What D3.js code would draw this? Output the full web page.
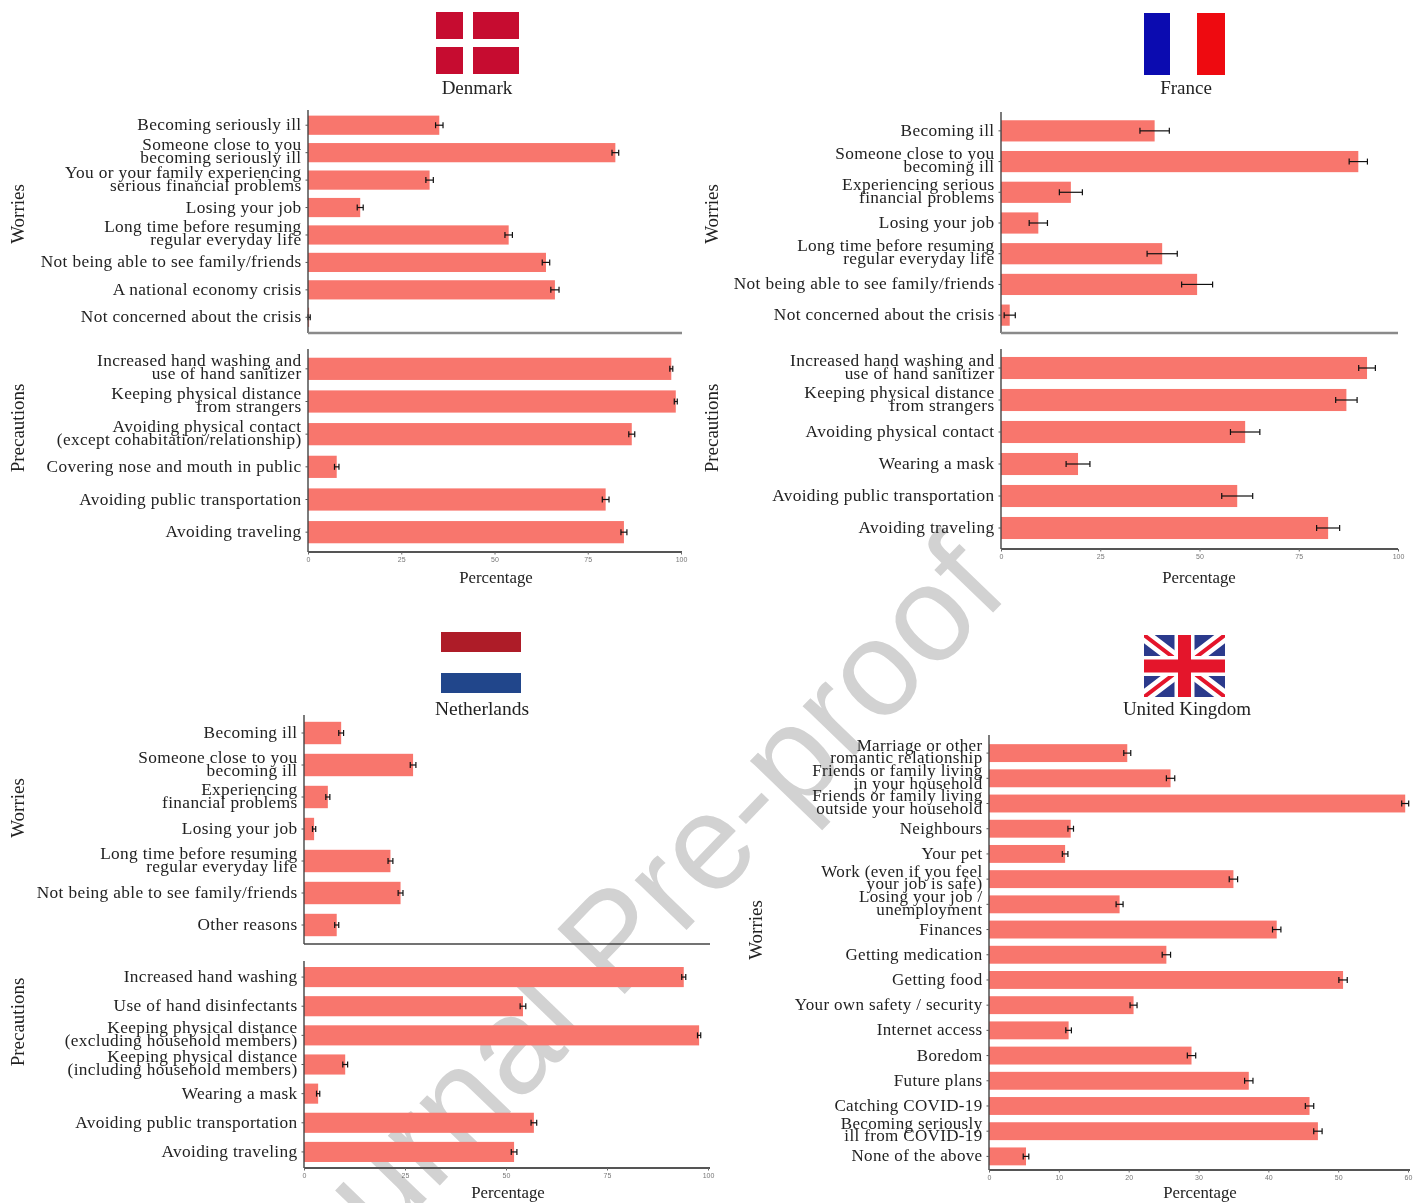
<!DOCTYPE html>
<html><head><meta charset="utf-8">
<script src="https://cdn.jsdelivr.net/npm/d3@7"></script>
<style>html,body{margin:0;background:#fff}svg{display:block;filter:blur(0.45px)}text{font-family:"Liberation Serif",serif}</style>
</head><body><svg id="c" width="1416" height="1203"></svg>
<script>
// ---------- data ----------
const dkWorryCats = ["Becoming seriously ill","Someone close to you\nbecoming seriously ill","You or your family experiencing\nserious financial problems","Losing your job","Long time before resuming\nregular everyday life","Not being able to see family/friends","A national economy crisis","Not concerned about the crisis"];
const dkWorryVals = [35.2,82.4,32.6,14,53.8,63.8,66.2,0.3];
const dkWorryErrs = [1,0.9,1,0.8,1,1,1.1,0.3];
const dkPrecCats = ["Increased hand washing and\nuse of hand sanitizer","Keeping physical distance\nfrom strangers","Avoiding physical contact\n(except cohabitation/relationship)","Covering nose and mouth in public","Avoiding public transportation","Avoiding traveling"];
const dkPrecVals = [97.4,98.6,86.8,7.7,79.8,84.7];
const dkPrecErrs = [0.4,0.4,0.8,0.6,0.9,0.8];

const frWorryCats = ["Becoming ill","Someone close to you\nbecoming ill","Experiencing serious\nfinancial problems","Losing your job","Long time before resuming\nregular everyday life","Not being able to see family/friends","Not concerned about the crisis"];
const frWorryVals = [38.7,90,17.6,9.4,40.6,49.4,2.2];
const frWorryErrs = [3.7,2.3,2.9,2.3,3.8,3.9,1.4];
const frPrecCats = ["Increased hand washing and\nuse of hand sanitizer","Keeping physical distance\nfrom strangers","Avoiding physical contact","Wearing a mask","Avoiding public transportation","Avoiding traveling"];
const frPrecVals = [92.2,87,61.5,19.4,59.5,82.4];
const frPrecErrs = [2.1,2.7,3.7,3,3.9,2.9];

const nlWorryCats = ["Becoming ill","Someone close to you\nbecoming ill","Experiencing\nfinancial problems","Losing your job","Long time before resuming\nregular everyday life","Not being able to see family/friends","Other reasons"];
const nlWorryVals = [9.2,27,5.9,2.5,21.4,23.9,8.1];
const nlWorryErrs = [0.6,0.7,0.5,0.4,0.6,0.6,0.5];
const nlPrecCats = ["Increased hand washing","Use of hand disinfectants","Keeping physical distance\n(excluding household members)","Keeping physical distance\n(including household members)","Wearing a mask","Avoiding public transportation","Avoiding traveling"];
const nlPrecVals = [94,54.2,97.8,10.2,3.5,56.9,52];
const nlPrecErrs = [0.5,0.7,0.4,0.6,0.4,0.7,0.7];

const ukWorryCats = ["Marriage or other\nromantic relationship","Friends or family living\nin your household","Friends or family living\noutside your household","Neighbours","Your pet","Work (even if you feel\nyour job is safe)","Losing your job /\nunemployment","Finances","Getting medication","Getting food","Your own safety / security","Internet access","Boredom","Future plans","Catching COVID-19","Becoming seriously\nill from COVID-19","None of the above"];
const ukWorryVals = [19.8,26,59.6,11.7,10.9,35,18.7,41.2,25.4,50.7,20.7,11.4,29,37.2,45.9,47.1,5.3];
const ukWorryErrs = [0.5,0.6,0.5,0.4,0.4,0.6,0.5,0.6,0.6,0.6,0.5,0.4,0.6,0.6,0.6,0.6,0.4];

const pctTicks = [0,25,50,75,100];
const ukTicks = [0,10,20,30,40,50,60];
const watermark = "Journal Pre-proof";

// ---------- layout ----------
const barColor = "#F8766D";
const svg = d3.select("#c");

const wm = svg.append("g");
wm.append("text").attr("transform","translate(281,1350) rotate(-46)")
  .style("font-family","'Liberation Sans',sans-serif").style("font-size","136px")
  .attr("fill","#d2d2d2").text(watermark);

function drawBlock(g,o){
  const x = d3.scaleLinear().domain([0,o.max]).range([o.x0,o.x1]);
  const y = d3.scaleBand().domain(o.cats).range([o.top,o.bottom]).paddingInner(o.pad).paddingOuter(o.pad/2);
  g.selectAll(null).data(o.cats).join("rect")
    .attr("x",x(0)).attr("y",d=>y(d)).attr("height",y.bandwidth())
    .attr("width",(d,i)=>x(o.vals[i])-x(0)).attr("fill",barColor);
  const eb = g.selectAll(null).data(o.cats).join("g").attr("stroke","#111").attr("stroke-width",1.2);
  eb.append("line").attr("x1",(d,i)=>x(o.vals[i]-o.errs[i])).attr("x2",(d,i)=>x(o.vals[i]+o.errs[i]))
    .attr("y1",d=>y(d)+y.bandwidth()/2).attr("y2",d=>y(d)+y.bandwidth()/2);
  [-1,1].forEach(s=>eb.append("line")
    .attr("x1",(d,i)=>x(o.vals[i]+s*o.errs[i])).attr("x2",(d,i)=>x(o.vals[i]+s*o.errs[i]))
    .attr("y1",d=>y(d)+y.bandwidth()/2-3).attr("y2",d=>y(d)+y.bandwidth()/2+3));
  // left axis
  const ya = g.append("g").attr("transform",`translate(${o.x0},0)`)
    .call(d3.axisLeft(y).tickSize(2.5).tickPadding(3).tickSizeOuter(0));
  ya.select(".domain").attr("d",`M0,${o.axTop}V${o.axBot}`).attr("stroke","#444").attr("stroke-width",1.4);
  ya.selectAll(".tick line").attr("stroke","#555");
  ya.selectAll(".tick text").each(function(d){
    const t=d3.select(this).attr("dy",null).attr("fill","#222").style("font-size",o.fs+"px")
      .style("letter-spacing","0.35px").style("font-family","'Liberation Serif',serif").text(null);
    const lines=d.split("\n");
    lines.forEach((l,k)=>t.append("tspan").attr("x",-6.5)
      .attr("y",(k-(lines.length-1)/2)*o.lh+5-(lines.length>1?1:0)).text(l));
  });
  // bottom line
  if(o.ticks){
    const xa=g.append("g").attr("transform",`translate(0,${o.axBot})`)
      .call(d3.axisBottom(x).tickValues(o.ticks).tickSize(2.5).tickPadding(3).tickSizeOuter(0));
    xa.select(".domain").attr("stroke",o.lineCol).attr("stroke-width",o.lineW).attr("d",`M${o.x0},0H${o.xEnd}`);
    xa.selectAll(".tick line").attr("stroke","#666");
    xa.selectAll(".tick text").attr("fill","#777").style("font-size","7px").style("font-family","'Liberation Sans',sans-serif");
  } else {
    g.append("line").attr("x1",o.x0).attr("x2",o.xEnd).attr("y1",o.axBot).attr("y2",o.axBot)
      .attr("stroke",o.lineCol).attr("stroke-width",o.lineW);
  }
  g.append("text").attr("transform",`translate(${o.labX},${o.labY}) rotate(-90)`)
    .attr("text-anchor","middle").attr("fill","#222").style("font-size","19px").text(o.label);
}
function label(cx,y,t,fs){
  svg.append("text").attr("x",cx).attr("y",y).attr("text-anchor","middle").attr("fill","#222").style("font-size",fs+"px").text(t);
}

const F=svg.append("g");
function rc(x,y,w,h,c){F.append("rect").attr("x",x).attr("y",y).attr("width",w).attr("height",h).attr("fill",c);}
// Denmark flag
[[436,12,27,27],[473,12,46,27],[436,47,27,27],[473,47,46,27]].forEach(r=>rc(...r,"#c60c30"));
// France flag
rc(1144,13,26,62,"#0b0bb0"); rc(1197,13,28,62,"#ee0a10");
// Netherlands flag
rc(441,632,80,20,"#ae1c28"); rc(441,673,80,20,"#21468b");
// UK flag
(function(){
  const X=1144,Y=635,W=81,H=62;
  const u=F.append("g");
  const cid="ukclip";
  svg.append("defs").append("clipPath").attr("id",cid).append("rect").attr("x",X).attr("y",Y).attr("width",W).attr("height",H);
  u.attr("clip-path",`url(#${cid})`);
  u.append("rect").attr("x",X).attr("y",Y).attr("width",W).attr("height",H).attr("fill","#2b3a8c");
  const d=`M${X},${Y}L${X+W},${Y+H}M${X+W},${Y}L${X},${Y+H}`;
  u.append("path").attr("d",d).attr("stroke","#fff").attr("stroke-width",13);
  u.append("path").attr("d",d).attr("stroke","#e4152b").attr("stroke-width",4);
  u.append("path").attr("d",`M${X+W/2},${Y}V${Y+H}M${X},${Y+H/2}H${X+W}`).attr("stroke","#fff").attr("stroke-width",20);
  u.append("path").attr("d",`M${X+W/2},${Y}V${Y+H}M${X},${Y+H/2}H${X+W}`).attr("stroke","#e4152b").attr("stroke-width",13);
})();

const base={max:100,fs:17.3,lh:13,lineCol:"#8a8a8a",lineW:2.6};
// Denmark
drawBlock(svg.append("g"),{...base,cats:dkWorryCats,vals:dkWorryVals,errs:dkWorryErrs,x0:308,x1:681,xEnd:682,top:111.5,bottom:331,pad:.3,axTop:110,axBot:333,label:"Worries",labX:24,labY:214});
drawBlock(svg.append("g"),{...base,cats:dkPrecCats,vals:dkPrecVals,errs:dkPrecErrs,x0:308,x1:681,xEnd:682,top:352.5,bottom:548.5,pad:.32,axTop:349,axBot:552,ticks:pctTicks,label:"Precautions",labX:24,labY:428,lineCol:"#555",lineW:2});
label(477,94,"Denmark",19); label(496,583,"Percentage",16.8);
// France
drawBlock(svg.append("g"),{...base,cats:frWorryCats,vals:frWorryVals,errs:frWorryErrs,x0:1001,x1:1398,xEnd:1398,top:115.5,bottom:330.5,pad:.31,axTop:112,axBot:333,label:"Worries",labX:718,labY:214});
drawBlock(svg.append("g"),{...base,cats:frPrecCats,vals:frPrecVals,errs:frPrecErrs,x0:1001,x1:1398,xEnd:1398,top:352,bottom:544,pad:.31,axTop:349,axBot:549,ticks:pctTicks,label:"Precautions",labX:718,labY:428,lineCol:"#555",lineW:2});
label(1186,94,"France",19); label(1199,583,"Percentage",16.8);
// Netherlands
drawBlock(svg.append("g"),{...base,cats:nlWorryCats,vals:nlWorryVals,errs:nlWorryErrs,x0:304,x1:708,xEnd:710,top:717,bottom:941,pad:.3,axTop:715,axBot:944,lineCol:"#444",lineW:1.6,label:"Worries",labX:24,labY:808});
drawBlock(svg.append("g"),{...base,cats:nlPrecCats,vals:nlPrecVals,errs:nlPrecErrs,x0:304,x1:708,xEnd:710,top:962.5,bottom:1166.5,pad:.31,axTop:961,axBot:1168,ticks:pctTicks,label:"Precautions",labX:24,labY:1022,lineCol:"#555",lineW:2});
label(482,715,"Netherlands",19.5); label(508,1198,"Percentage",16.8);
// UK
drawBlock(svg.append("g"),{...base,max:60,cats:ukWorryCats,vals:ukWorryVals,errs:ukWorryErrs,x0:989,x1:1408,xEnd:1410,top:740.5,bottom:1169,pad:.29,axTop:735,axBot:1170,ticks:ukTicks,fs:17,lh:12.5,label:"Worries",labX:762,labY:930,lineCol:"#555",lineW:2});
label(1187,715,"United Kingdom",19); label(1200,1198,"Percentage",16.8);
</script></body></html>
